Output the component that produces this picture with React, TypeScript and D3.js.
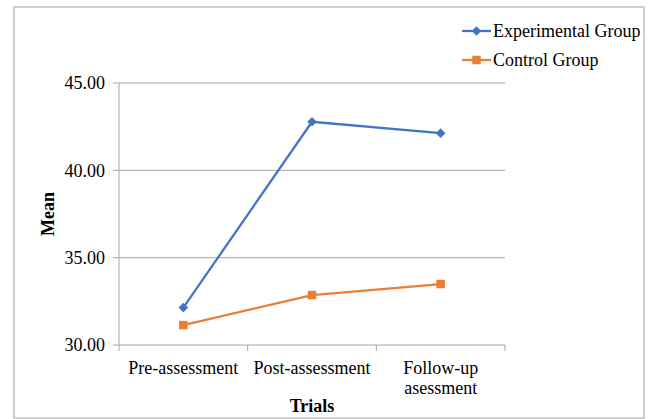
import React from "react";
import * as d3 from "d3";

const categories = ["Pre-assessment", "Post-assessment", "Follow-up asessment"];
const experimental = [32.14, 42.78, 42.13];
const control = [31.14, 32.86, 33.49];
const yTicks = [30, 35, 40, 45];
const seriesNames = ["Experimental Group", "Control Group"];

const W = 653, H = 419;
const left = 119, right = 505, top = 83, bottom = 345;
const FONT = "'Liberation Serif', 'Times New Roman', serif";

export default function App() {
  const x = d3.scaleBand<string>().domain(categories).range([left, right]);
  const y = d3.scaleLinear().domain([30, 45]).range([bottom, top]);
  const line = d3.line<number>()
    .x((_, i) => (x(categories[i]) as number) + x.bandwidth() / 2)
    .y((d) => y(d));
  const blue = "#4472c4", orange = "#ed7d31";
  const diamond = d3.symbol().type(d3.symbolSquare).size(46)();
  const square = d3.symbol().type(d3.symbolSquare).size(72)();
  const series = [
    { name: seriesNames[0], data: experimental, color: blue, marker: diamond, rot: 45 },
    { name: seriesNames[1], data: control, color: orange, marker: square, rot: 0 },
  ];
  const ticksX = [...categories.map((c) => x(c) as number), right];
  return (
    <svg width={W} height={H} style={{ position: "absolute", left: 0, top: 0, background: "#fff" }} fontFamily={FONT}>
      <rect x={14} y={7} width={630} height={411} fill="#fff" stroke="#bfbfbf" strokeWidth={1.5} />
      {yTicks.map((t) => (
        <g key={t}>
          {t !== 30 && <line x1={left} x2={right} y1={y(t)} y2={y(t)} stroke="#a6a6a6" strokeWidth={1} />}
          <line x1={left - 6} x2={left} y1={y(t)} y2={y(t)} stroke="#a6a6a6" strokeWidth={1} />
          <text x={left - 14} y={y(t)} dy="0.35em" textAnchor="end" fontSize={18} fill="#000">{t.toFixed(2)}</text>
        </g>
      ))}
      <line x1={left} x2={left} y1={top} y2={bottom} stroke="#a6a6a6" strokeWidth={1} />
      <line x1={left} x2={right} y1={bottom} y2={bottom} stroke="#a6a6a6" strokeWidth={1} />
      {ticksX.map((tx, i) => (
        <line key={i} x1={tx} x2={tx} y1={bottom} y2={bottom + 6} stroke="#a6a6a6" strokeWidth={1} />
      ))}
      {categories.map((c) => {
        const cx = (x(c) as number) + x.bandwidth() / 2;
        const parts = c === "Follow-up asessment" ? ["Follow-up", "asessment"] : [c];
        return (
          <text key={c} x={cx} y={374} textAnchor="middle" fontSize={18} fill="#000">
            {parts.map((p, i) => (
              <tspan key={i} x={cx} dy={i === 0 ? 0 : 20}>{p}</tspan>
            ))}
          </text>
        );
      })}
      <text x={312} y={412} textAnchor="middle" fontSize={18} fontWeight="bold" fill="#000">Trials</text>
      <text transform={`translate(54,${(top + bottom) / 2}) rotate(-90)`} textAnchor="middle" fontSize={18} fontWeight="bold" fill="#000">Mean</text>
      {series.map((s) => (
        <g key={s.name}>
          <path d={line(s.data) as string} fill="none" stroke={s.color} strokeWidth={2.25} />
          {s.data.map((v, i) => (
            <path key={i} d={s.marker as string} fill={s.color}
              transform={`translate(${(x(categories[i]) as number) + x.bandwidth() / 2},${y(v)}) rotate(${s.rot})`} />
          ))}
        </g>
      ))}
      {series.map((s, i) => {
        const ly = 31 + i * 29;
        return (
          <g key={s.name}>
            <line x1={462} x2={491} y1={ly} y2={ly} stroke={s.color} strokeWidth={2.25} />
            <path d={s.marker as string} fill={s.color} transform={`translate(476.5,${ly}) rotate(${s.rot})`} />
            <text x={493} y={ly} dy="0.35em" fontSize={18} fill="#000">{s.name}</text>
          </g>
        );
      })}
    </svg>
  );
}
